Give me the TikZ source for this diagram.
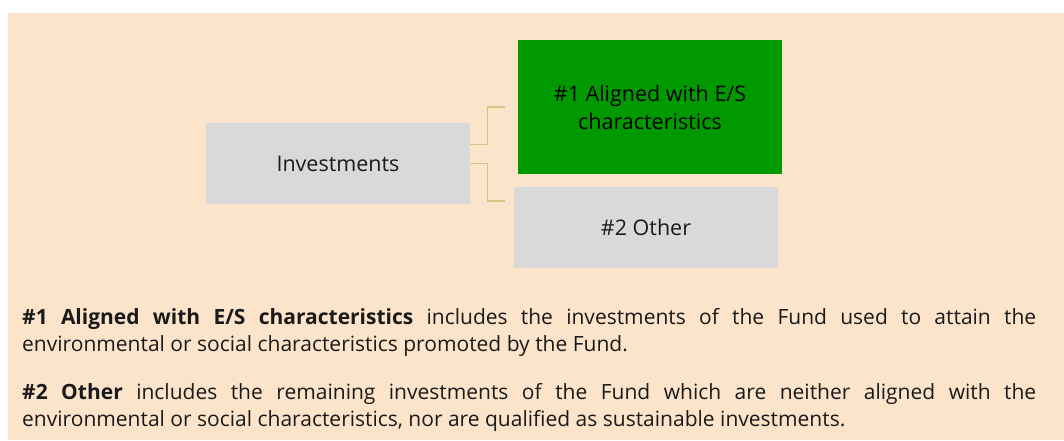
\documentclass[tikz,border=0pt]{standalone}
\usepackage{fontspec}
\setmainfont{Open Sans}
\usepackage{tikz}
\usetikzlibrary{positioning}
\definecolor{peach}{RGB}{252,228,202}
\definecolor{esgreen}{RGB}{0,153,0}
\definecolor{boxgray}{RGB}{217,217,217}
\definecolor{linktan}{RGB}{214,198,134}
\definecolor{txt}{RGB}{26,26,26}
\tikzset{
  catbox/.style={fill=boxgray,minimum width=264pt,minimum height=81pt,inner sep=0pt,
    font=\fontsize{21.5}{28}\selectfont,text=txt,align=center},
  link/.style={draw=linktan,line width=1.4pt},
  para/.style={anchor=base west,inner sep=0pt,text width=1014pt,align=justify,
    font=\fontsize{21}{26.8}\selectfont,text=txt}
}
\begin{document}
\begin{tikzpicture}[x=1pt,y=-1pt]
\useasboundingbox (0,0) rectangle (1064,440);
\fill[peach] (8,13) rectangle (1064,440);
% tree
\node[catbox] (inv) at (338,163.5) {Investments};
\node[catbox,fill=esgreen,minimum height=134pt,text=black] (aligned) at (650,107)
  {\#1 Aligned with E/S\\characteristics};
\node[catbox] (other) at (646,227.5) {\#2 Other};
\coordinate (e1) at ([xshift=-13pt]aligned.west);
\coordinate (e2) at (505,201);
\draw[link] ([yshift=19pt]inv.east) -- ++(17,0) |- (e1);
\draw[link] (inv.east) -- ++(17,0) |- (e2);
% legend
\node[para] (p1) at (22,324.5)
  {\textbf{\#1 Aligned with E/S characteristics} includes the investments of the Fund used to attain the\linebreak
   environmental or social characteristics promoted by the Fund.};
\node[para] (p2) at (22,399.5)
  {\textbf{\#2 Other} includes the remaining investments of the Fund which are neither aligned with the\linebreak
   environmental or social characteristics, nor are qualified as sustainable investments.};
\end{tikzpicture}
\end{document}
